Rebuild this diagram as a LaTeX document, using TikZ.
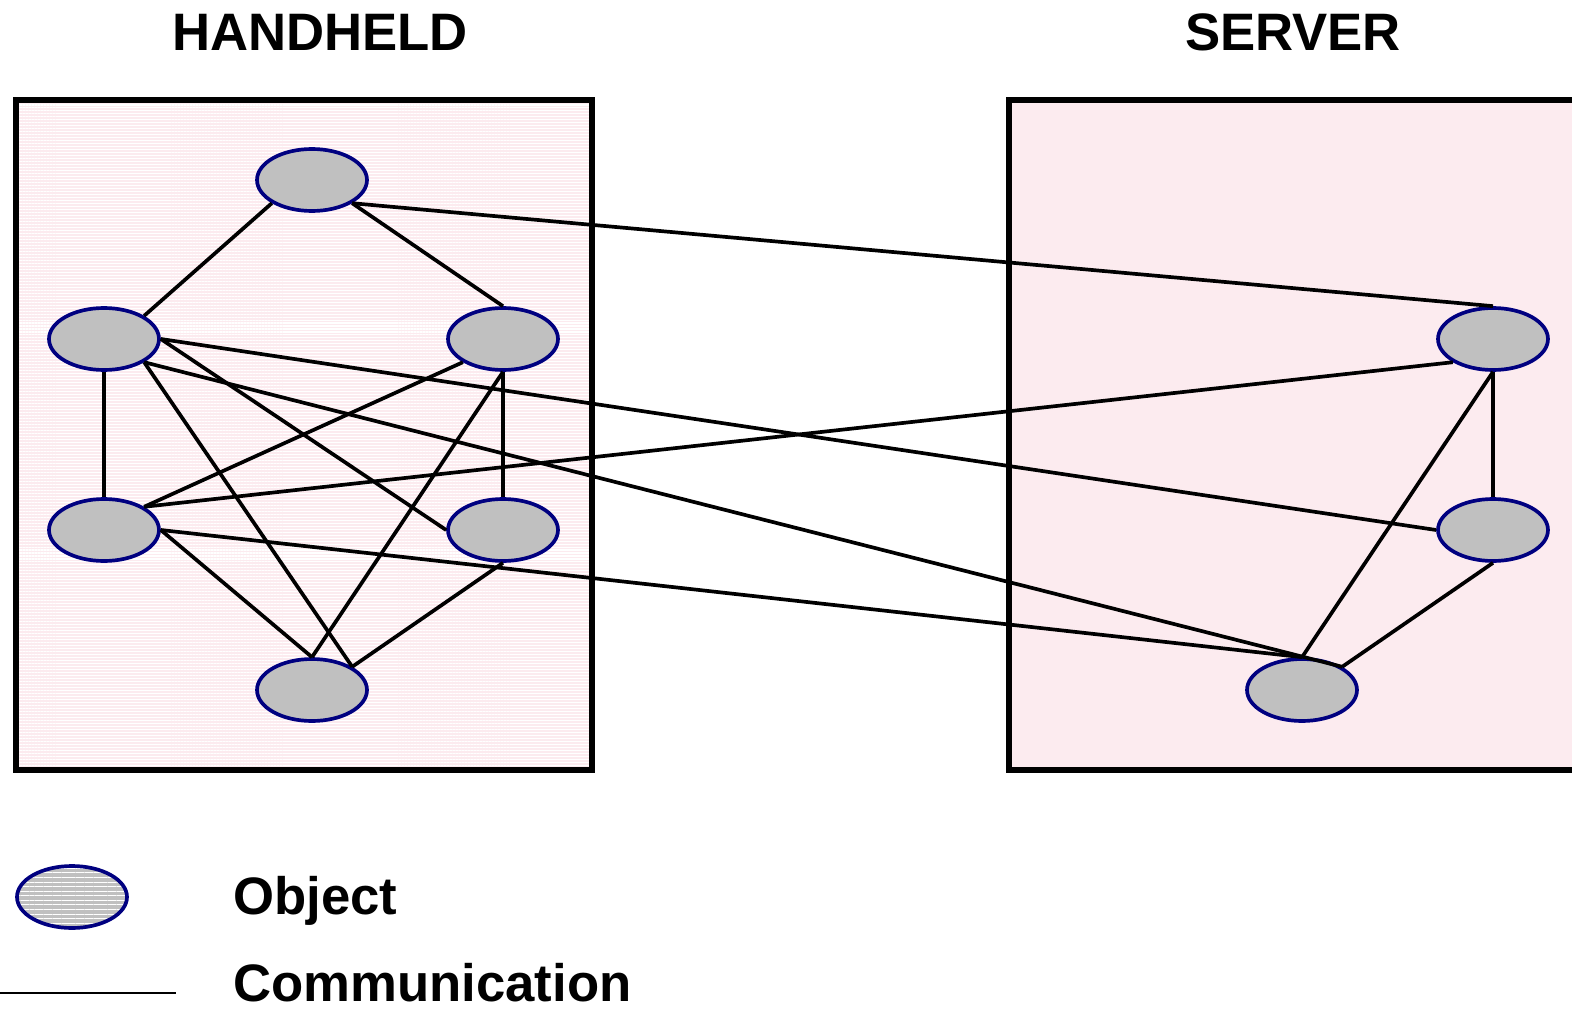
\documentclass[tikz,border=0pt]{standalone}
\usepackage{fontspec}
\setmainfont{Liberation Sans}
\usetikzlibrary{shapes,positioning,patterns.meta}
\definecolor{boxpink}{HTML}{FCEBEF}
\definecolor{objgray}{HTML}{C0C0C0}
\definecolor{objnavy}{HTML}{000080}

\begin{document}
\begin{tikzpicture}[x=0.02cm, y=-0.02cm,
  object/.style={ellipse, draw=objnavy, line width=2.1pt, fill=objgray, minimum width=2.2cm, minimum height=1.24cm, inner sep=0pt},
  host/.style={draw=black, line width=3.2pt},
  comm/.style={draw=black, line width=2.1pt},
  title/.style={font=\fontsize{30}{36}\selectfont\bfseries, anchor=base},
  legendtext/.style={font=\fontsize{30}{36}\selectfont\bfseries, anchor=base west}]

\useasboundingbox (0,0) rectangle (1572,1010);
\clip (0,0) rectangle (1572,1010);

% HOSTS

\node[title] (handheldtitle) at (320,51) {HANDHELD};
\node[title] (servertitle) at (1293,51) {SERVER};

\fill[boxpink] (16,100) rectangle (592,770);
\fill[pattern={Lines[angle=0,distance=1.7pt,line width=0.6pt]}, pattern color=white] (16,100) rectangle (592,770);
\draw[host] (16,100) rectangle (592,770);

\fill[boxpink] (1009,100) rectangle (1620,770);
\draw[host] (1009,100) rectangle (1620,770);

% OBJECTS

\node[object] (htop) at (312,180) {};
\node[object] (hleft) at (104,339) {};
\node[object] (hright) at (503,339) {};
\node[object] (hlowleft) at (104,530) {};
\node[object] (hlowright) at (503,530) {};
\node[object] (hbottom) at (312,690) {};

\node[object] (stop) at (1493,339) {};
\node[object] (smid) at (1493,530) {};
\node[object] (sbottom) at (1302,690) {};

% COMMUNICATION

\draw[comm] (htop.south west) -- (hleft.north east);
\draw[comm] (htop.south east) -- (hright.north);
\draw[comm] (htop.south east) -- (stop.north);

\draw[comm] (hleft.south) -- (hlowleft.north);
\draw[comm] (hleft.east) -- (smid.west);
\draw[comm] (hleft.east) -- (hlowright.west);
\draw[comm] (hleft.south east) -- (hbottom.north east);
\draw[comm] (hleft.south east) -- (sbottom.north east);

\draw[comm] (hright.south west) -- (hlowleft.north east);
\draw[comm] (hright.south) -- (hlowright.north);
\draw[comm] (hright.south) -- (hbottom.north);

\draw[comm] (hlowleft.north east) -- (stop.south west);
\draw[comm] (hlowleft.east) -- (sbottom.north);
\draw[comm] (hlowleft.east) -- (hbottom.north);
\draw[comm] (hlowright.south) -- (hbottom.north east);

\draw[comm] (stop.south) -- (smid.north);
\draw[comm] (stop.south) -- (sbottom.north);
\draw[comm] (smid.south) -- (sbottom.north east);

% LEGEND

\node[object, preaction={fill=objgray}, pattern={Lines[angle=0,distance=2.6pt,line width=0.6pt]}, pattern color=white] (legendobj) at (72,897) {};
\node[legendtext] (objecttext) at (227,914) {Object};

\coordinate (legendstart) at (0,993);
\coordinate (legendend) at (176,993);
\draw[black, line width=1.4pt] (legendstart) -- (legendend);
\node[legendtext] (commtext) at (227,1001) {Communication};

\end{tikzpicture}
\end{document}
